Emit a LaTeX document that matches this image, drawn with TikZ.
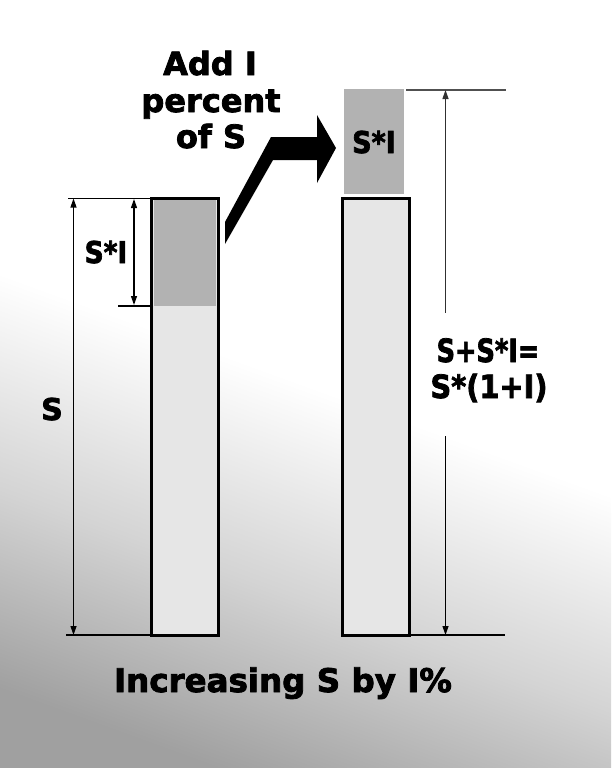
\documentclass[tikz,border=0pt]{standalone}
\usepackage{fontspec}
\usetikzlibrary{arrows.meta}
\newfontfamily\heavy{DejaVu Sans Bold}[FakeBold=2.5]
\definecolor{bgA}{HTML}{A0A0A0}
\definecolor{bgB}{HTML}{D4D4D4}
\definecolor{barlight}{HTML}{E6E6E6}
\definecolor{bardark}{HTML}{B2B2B2}
\definecolor{dimgrey}{HTML}{505050}
\pgfdeclareverticalshading{bgsh}{100bp}{color(0bp)=(bgA); color(23bp)=(bgA); color(36bp)=(bgB); color(50bp)=(white); color(100bp)=(white)}
\begin{document}
\begin{tikzpicture}[x=1pt,y=-1pt,
  lbl/.style={font=\heavy\fontsize{32}{36}\selectfont, inner sep=0pt, anchor=base},
  small/.style={font=\heavy\fontsize{30}{34}\selectfont, inner sep=0pt, anchor=base},
  barbox/.style={draw=black, line width=3pt, fill=barlight, inner sep=0pt, outer sep=0pt, anchor=north west},
  dim/.style={line width=1.2pt, black},
  ext/.style={line width=1.2pt, black},
  tip/.style={-{Triangle[length=9pt,width=6pt]}}]
\useasboundingbox (0,0) rectangle (611,768);
\shade[shading=bgsh, shading angle=-20] (0,0) rectangle (611,768);

% bars
\node[barbox, minimum width=66.5pt, minimum height=437pt] (barL) at (151.5,198) {};
\fill[bardark] (153.5,200) rectangle (216,306);
\node[barbox, minimum width=67pt, minimum height=437pt] (barR) at (342,198) {};
\node[fill=bardark, inner sep=0pt, minimum width=60pt, minimum height=105pt, anchor=north west] (topR) at (344,89) {};

% arrow
\fill[black] (225,244) -- (225,222) -- (271,137) -- (317,137) -- (317,115) -- (336,148) -- (317,183) -- (317,160) -- (273,160) -- cycle;

% left dimensions
\coordinate (lT) at (68,198.5);
\coordinate (lB) at (66,635);
\coordinate (lmid) at (118,306);
\draw[ext] (lT) -- (lT -| barL.west);
\draw[ext] (lB) -- (lB -| barL.west);
\draw[ext] (lmid) -- (lmid -| barL.west);
\coordinate (sT) at (73.5,198.5);
\coordinate (sB) at (73.5,635);
\draw[dim, {Triangle[length=9pt,width=6pt]}-{Triangle[length=9pt,width=6pt]}] (sT) -- (sB);
\coordinate (iT) at (134,199);
\coordinate (iB) at (134,305);
\draw[dim, {Triangle[length=9pt,width=6pt]}-{Triangle[length=9pt,width=6pt]}] (iT) -- (iB);

% right dimensions
\coordinate (rT) at (406,90);
\coordinate (rTe) at (506,90);
\draw[line width=1.8pt, dimgrey] (rT) -- (rTe);
\coordinate (rBe) at (505,635);
\draw[ext] (rBe -| barR.east) -- (rBe);
\coordinate (vT) at (445.5,90);
\coordinate (vG1) at (445.5,313);
\coordinate (vG2) at (445.5,436);
\coordinate (vB) at (445.5,635);
\draw[dim, dimgrey!60!black, {Triangle[length=9pt,width=6pt]}-] (vT) -- (vG1);
\draw[dim, tip] (vG2) -- (vB);

% labels
\node[lbl] (add) at (210,75) {Add I};
\node[lbl] (perc) at (211,112) {percent};
\node[lbl] (ofs) at (211,148) {of S};
\node[small] (siR) at (374,153) {\scalebox{0.9}[1]{S*I}};
\node[small] (siL) at (106,263) {\scalebox{0.88}[1]{S*I}};
\node[small] (sL) at (52,420) {S};
\node[lbl] (eq1) at (488,362) {\scalebox{0.8}[1]{S+S*I=}};
\node[lbl] (eq2) at (489,398) {\scalebox{0.9}[1]{S*(1+I)}};
\node[lbl, font=\heavy\fontsize{32.5}{36}\selectfont] (title) at (283,692) {Increasing S by I\%};
\end{tikzpicture}
\end{document}
